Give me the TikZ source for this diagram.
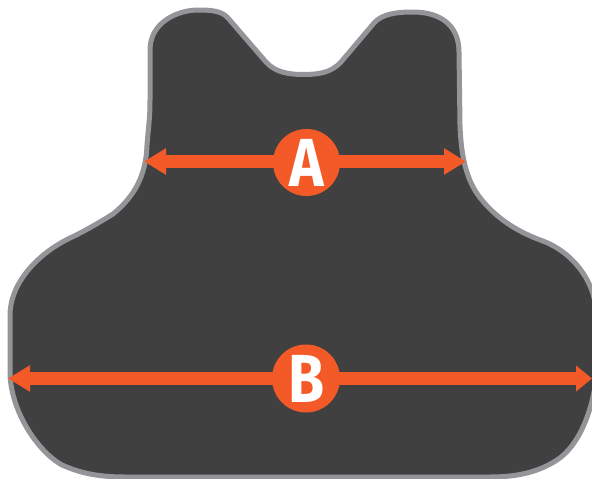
\documentclass[tikz,border=0pt]{standalone}
\usepackage{graphicx}
\usepackage{fontspec}
\setmainfont{Fira Sans}
\usetikzlibrary{arrows.meta}
\definecolor{vest}{HTML}{404041}
\definecolor{rim}{HTML}{949598}
\definecolor{accent}{HTML}{F35A28}
\tikzset{
  vestshape/.style={fill=vest,draw=rim,line width=5pt,line join=round},
  badge/.style={circle,fill=accent,text=white,inner sep=0pt,minimum size=67pt,font=\fontsize{68}{68}\selectfont\bfseries},
  measure/.style={draw=accent,line width=13pt,-{Triangle[width=25pt,length=22pt]}},
  shortmeasure/.style={draw=accent,line width=13pt,-{Triangle[width=25pt,length=16pt]}}
}
\begin{document}
\begin{tikzpicture}[x=1pt,y=-1pt]
\useasboundingbox (0,0) rectangle (592,479);
\clip (0,0) rectangle (592,479);
\draw[vestshape] (150,100) -- (150,50)
  .. controls (150,22) and (178,10) .. (198,10)
  .. controls (212,10) and (222,11) .. (228,18)
  -- (266,62)
  .. controls (275,72) and (288,74.5) .. (303,74.5)
  .. controls (318,74.5) and (331,73) .. (341,62)
  -- (374,23)
  .. controls (382,14) and (396,12) .. (413,12)
  .. controls (440,12) and (459,25) .. (459,52)
  -- (460,125)
  .. controls (461,155) and (466,178) .. (478,195)
  .. controls (492,214) and (512,230) .. (543,241)
  .. controls (572,252) and (594,280) .. (596,310)
  -- (596,380)
  .. controls (592,410) and (580,445) .. (557,460)
  .. controls (540,471) and (520,477) .. (490,477)
  -- (125,477)
  .. controls (95,477) and (78,472) .. (62,465)
  .. controls (40,453) and (12,415) .. (10,375)
  -- (10,315)
  .. controls (10,285) and (35,255) .. (70,238)
  .. controls (85,231) and (100,222) .. (113,214)
  .. controls (135,196) and (146,175) .. (147,145)
  .. controls (148,130) and (150,120) .. (150,100)
  -- cycle;
\coordinate (aL) at (144,161.5);
\coordinate (aR) at (466,161.5);
\coordinate (bL) at (8,378.5);
\coordinate (bR) at (592,378.5);
\coordinate (ca) at (306.5,161.5);
\coordinate (cb) at (306,378.5);
\draw[measure] (ca) -- (aL);
\draw[measure] (ca) -- (aR);
\draw[measure] (cb) -- (bL);
\draw[shortmeasure] (cb) -- (bR);
\node[badge] (A) at (306.5,162.5) {\scalebox{0.86}[1]{A}};
\node[badge,minimum size=68pt] (B) at (306,378.5) {\hspace{1.5pt}\scalebox{0.86}[1]{B}};
\end{tikzpicture}
\end{document}
